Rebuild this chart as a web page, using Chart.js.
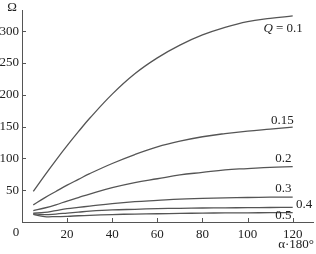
<!DOCTYPE html>
<html>
<head>
<meta charset="utf-8">
<script src="https://cdn.jsdelivr.net/npm/chart.js@4/dist/chart.umd.min.js"></script>
<style>
    html, body { margin: 0; padding: 0; background: #fff; }
    #wrap { width: 316px; height: 254px; }
</style>
</head>
<body>
<div id="wrap"><canvas id="myChart"></canvas></div>
<script>
// alpha (x axis, in units of 180deg)
const alpha = [5, 10, 15, 20, 25, 30, 40, 50, 60, 70, 80, 90, 100, 110, 120];

const q01  = [48, 73, 97, 120, 142, 163, 201, 233, 258, 278, 294, 306, 315, 320, 324];
const q015 = [27, 38, 48, 58, 67, 76, 92, 106, 118, 127, 134, 139, 143, 146, 149];
const q02  = [18, 22, 27, 33, 38.5, 44, 54, 62, 68, 74, 78, 82, 84, 86, 87];
const q03  = [14, 15, 18, 21, 23, 25, 29, 32, 34, 36, 37, 38, 38.5, 39, 39];
const q04  = [13, 11.5, 12.5, 14, 15.5, 17, 19, 20, 21, 21.5, 22, 22.3, 22.5, 22.8, 23];
const q05  = [12, 8.5, 8.5, 9, 9.8, 10.5, 11.7, 12.5, 13, 13.5, 14, 14.2, 14.5, 14.6, 14.7];

const seriesLabels = ['Q = 0.1', '0.15', '0.2', '0.3', '0.4', '0.5'];
const allSeries = [q01, q015, q02, q03, q04, q05];

const lineColor = '#555555';
const serif = '"Liberation Serif", "Times New Roman", serif';

// where each curve label sits, in data units
const labelSpots = [
    { x: 124.5, y: 304, align: 'right' },
    { x: 120.5, y: 160, align: 'right' },
    { x: 119.5, y: 99, align: 'right' },
    { x: 119.5, y: 53, align: 'right' },
    { x: 121.5, y: 27, align: 'left' },
    { x: 119.5, y: 10.5, align: 'right' }
];

const decorations = {
    id: 'decorations',
    afterDraw(chart) {
        const c = chart.ctx;
        const xs = chart.scales.x;
        const ys = chart.scales.y;
        c.save();
        c.strokeStyle = lineColor;
        c.lineWidth = 1;
        // inside tick marks
        [20, 40, 60, 80, 100, 120].forEach(v => {
            const px = Math.round(xs.getPixelForValue(v)) + 0.5;
            c.beginPath();
            c.moveTo(px, ys.bottom);
            c.lineTo(px, ys.bottom - 4);
            c.stroke();
        });
        [50, 100, 150, 200, 250, 300].forEach(v => {
            const py = Math.round(ys.getPixelForValue(v)) + 0.5;
            c.beginPath();
            c.moveTo(xs.left, py);
            c.lineTo(xs.left + 4, py);
            c.stroke();
        });
        c.fillStyle = '#222';
        c.font = '13px ' + serif;
        c.textBaseline = 'middle';
        c.textAlign = 'center';
        c.fillText('0', 16, 233);
        c.fillText('Ω', 12, 8);
        c.textAlign = 'right';
        c.fillText('α·180°', 314, 245);
        seriesLabels.forEach((txt, i) => {
            const s = labelSpots[i];
            const px = xs.getPixelForValue(s.x);
            const py = ys.getPixelForValue(s.y);
            c.textAlign = s.align;
            if (i === 0) {
                c.font = '13px ' + serif;
                const rest = ' = 0.1';
                const wRest = c.measureText(rest).width;
                c.fillText(rest, px, py);
                c.font = 'italic 13px ' + serif;
                c.textAlign = 'right';
                c.fillText('Q', px - wRest, py);
            } else {
                c.font = '13px ' + serif;
                c.fillText(txt, px, py);
            }
        });
        c.restore();
    }
};

const ctx = document.getElementById('myChart').getContext('2d');
const myChart = new Chart(ctx, {
    type: 'line',
    data: {
        datasets: allSeries.map((vals, i) => ({
            label: seriesLabels[i],
            data: vals.map((v, j) => ({ x: alpha[j], y: v })),
            borderColor: lineColor,
            borderWidth: 1.3,
            pointRadius: 0,
            fill: false,
            tension: 0.4
        }))
    },
    options: {
        responsive: true,
        maintainAspectRatio: false,
        animation: false,
        layout: { padding: { top: 4, right: 3, left: 0, bottom: 0 } },
        plugins: {
            legend: { display: false },
            tooltip: { enabled: false }
        },
        scales: {
            x: {
                type: 'linear',
                min: 0,
                max: 129,
                grid: { display: false, drawTicks: false },
                border: { color: lineColor, width: 1 },
                ticks: {
                    stepSize: 20,
                    includeBounds: false,
                    padding: 5,
                    color: '#222',
                    font: { family: serif, size: 13 },
                    maxRotation: 0,
                    callback: v => (v === 0 ? '' : v)
                },
                afterFit(scale) { scale.height = 32; }
            },
            y: {
                min: 0,
                max: 332,
                grid: { display: false, drawTicks: false },
                border: { color: lineColor, width: 1 },
                ticks: {
                    stepSize: 50,
                    includeBounds: false,
                    padding: 3,
                    color: '#222',
                    font: { family: serif, size: 13 },
                    callback: v => (v === 0 ? '' : v)
                },
                afterFit(scale) { scale.width = 22; }
            }
        }
    },
    plugins: [decorations]
});
</script>
</body>
</html>
